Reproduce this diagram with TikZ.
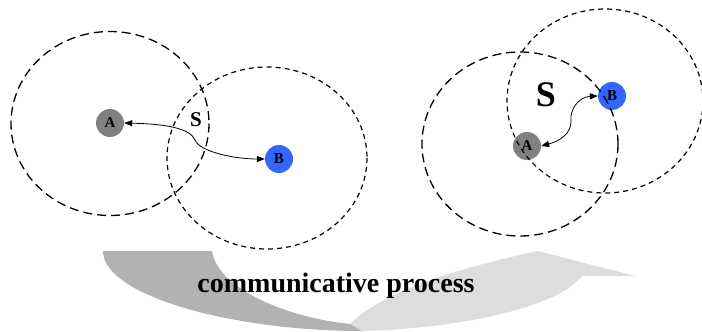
\documentclass[tikz,border=0pt]{standalone}
\usepackage{fontspec}
\setmainfont{Liberation Serif}
\usetikzlibrary{arrows.meta}
\definecolor{nodegray}{RGB}{128,128,128}
\definecolor{nodeblue}{RGB}{51,102,255}
\definecolor{darkband}{RGB}{178,178,178}
\definecolor{lightband}{RGB}{221,221,221}
\begin{document}
\begin{tikzpicture}[x=1pt,y=-1pt,
  agent/.style={circle,minimum size=28pt,inner sep=0pt,font=\bfseries\fontsize{15}{15}\selectfont},
  agentA/.style={agent,fill=nodegray},
  agentB/.style={agent,fill=nodeblue},
  longdash/.style={line width=1.3pt,dash pattern=on 9pt off 5pt},
  shortdash/.style={line width=1.2pt,dash pattern=on 5pt off 4pt},
  link/.style={line width=0.8pt,{Triangle[length=8pt,width=6pt]}-{Triangle[length=8pt,width=6pt]}}]
\useasboundingbox (0,0) rectangle (702,332);
% process band
\fill[lightband] (350,324) -- (362,331) .. controls (470,328) and (560,305) .. (582,276)
  -- (635,276) -- (538,251) .. controls (440,272) and (380,295) .. (350,324) -- cycle;
\fill[darkband] (103,251) -- (212,251) .. controls (218,290) and (290,318) .. (350,324)
  -- (362,331) .. controls (230,331) and (103,295) .. (103,251) -- cycle;
\node[font=\bfseries\fontsize{28}{28}\selectfont,anchor=base] (proc) at (336,292) {communicative process};
% left situation
\node[agentA] (A1) at (110,123) {A};
\node[agentB] (B1) at (279,159) {B};
\node[font=\bfseries\fontsize{21}{21}\selectfont] (S1) at (196,120) {S};
\draw[link] (A1.east) .. controls (165,124) and (190,128) .. (195,140)
  .. controls (200,152) and (235,159) .. (B1.west);
\draw[longdash] (110,123.5) ellipse [x radius=99, y radius=92];
\draw[shortdash] (267,158) ellipse [x radius=100, y radius=91];
% right situation
\node[agentA] (A2) at (527,146) {A};
\node[agentB] (B2) at (612,96) {B};
\node[font=\bfseries\fontsize{36}{36}\selectfont] (S2) at (546,95) {S};
\draw[link] (B2.west) .. controls (578,97) and (570,110) .. (571,120)
  .. controls (572,133) and (560,141) .. (A2.east);
\draw[longdash] (520,144) ellipse [x radius=98, y radius=92];
\draw[shortdash] (605,101) ellipse [x radius=98, y radius=92];
\end{tikzpicture}
\end{document}
